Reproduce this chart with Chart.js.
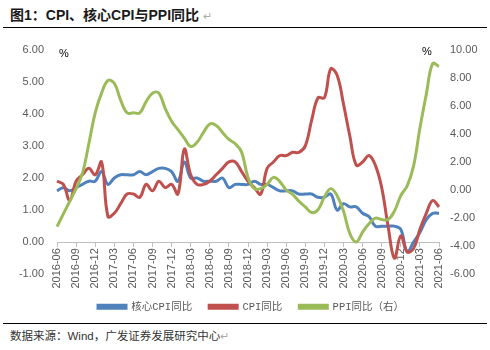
<!DOCTYPE html>
<html>
<head>
<meta charset="utf-8">
<script src="https://cdn.jsdelivr.net/npm/chart.js@4/dist/chart.umd.min.js"></script>
<style>
  html, body { margin: 0; padding: 0; background: #fff; }
  #page { position: relative; width: 490px; height: 350px; overflow: hidden; }
  #title {
    position: absolute; left: 10px; top: 4px;
    font: bold 14px "Liberation Sans", "Noto Sans CJK SC", sans-serif;
    color: #1a1a1a; white-space: nowrap;
  }
  #title .ret, #source .ret { color: #aaa; font-weight: normal; font-size: 11px; }
  #topRule { position: absolute; left: 3px; right: 3px; top: 27px; border-top: 1.5px solid #000; }
  #bottomRule { position: absolute; left: 3px; right: 3px; top: 323px; border-top: 1.5px solid #000; }
  #source {
    position: absolute; left: 10px; top: 327px;
    font: 11.5px "Liberation Sans", "Noto Sans CJK SC", sans-serif;
    color: #333; white-space: nowrap;
  }
  #chartBox { position: absolute; left: 0; top: 30px; width: 490px; height: 292px; }
</style>
</head>
<body>
<div id="page">
  <div id="title">图1：CPI、核心CPI与PPI同比 <span class="ret">↵</span></div>
  <div id="topRule"></div>
  <div id="chartBox"><canvas id="chart"></canvas></div>
  <div id="bottomRule"></div>
  <div id="source">数据来源：Wind，广发证券发展研究中心<span class="ret">↵</span></div>
</div>
<script>
'use strict';

// ── Data (monthly, 2016-06 … 2021-06) ───────────────────────────────────────
const months = [
  '2016-06','2016-07','2016-08','2016-09','2016-10','2016-11','2016-12',
  '2017-01','2017-02','2017-03','2017-04','2017-05','2017-06','2017-07','2017-08','2017-09','2017-10','2017-11','2017-12',
  '2018-01','2018-02','2018-03','2018-04','2018-05','2018-06','2018-07','2018-08','2018-09','2018-10','2018-11','2018-12',
  '2019-01','2019-02','2019-03','2019-04','2019-05','2019-06','2019-07','2019-08','2019-09','2019-10','2019-11','2019-12',
  '2020-01','2020-02','2020-03','2020-04','2020-05','2020-06','2020-07','2020-08','2020-09','2020-10','2020-11','2020-12',
  '2021-01','2021-02','2021-03','2021-04','2021-05','2021-06'
];

const coreCpi = [
  1.6, 1.7, 1.6, 1.7, 1.8, 1.9, 1.9,
  2.2, 1.8, 2.0, 2.1, 2.1, 2.1, 2.2, 2.1, 2.2, 2.3, 2.3, 2.2,
  1.9, 2.5, 2.0, 2.0, 1.9, 1.9, 1.9, 2.0, 1.7, 1.8, 1.8, 1.8,
  1.9, 1.8, 1.8, 1.7, 1.6, 1.6, 1.6, 1.5, 1.5, 1.5, 1.4, 1.4,
  1.5, 1.0, 1.2, 1.1, 1.1, 0.9, 0.8, 0.5, 0.5, 0.5, 0.5, 0.4,
  -0.3, 0.0, 0.3, 0.7, 0.9, 0.9
];

const cpi = [
  1.9, 1.8, 1.3, 1.9, 2.1, 2.3, 2.1,
  2.5, 0.8, 0.9, 1.2, 1.5, 1.5, 1.4, 1.8, 1.6, 1.9, 1.7, 1.8,
  1.5, 2.9, 2.1, 1.8, 1.8, 1.9, 2.1, 2.3, 2.5, 2.5, 2.2, 1.9,
  1.7, 1.5, 2.3, 2.5, 2.7, 2.7, 2.8, 2.8, 3.0, 3.8, 4.5, 4.5,
  5.4, 5.2, 4.3, 3.3, 2.4, 2.5, 2.7, 2.4, 1.7, 0.5, -0.5, 0.2,
  -0.3, -0.2, 0.4, 0.9, 1.3, 1.1
];

const ppi = [
  -2.6, -1.7, -0.8, 0.1, 1.2, 3.3, 5.5,
  6.9, 7.8, 7.6, 6.4, 5.5, 5.5, 5.5, 6.3, 6.9, 6.9, 5.8, 4.9,
  4.3, 3.7, 3.1, 3.4, 4.1, 4.7, 4.6, 4.1, 3.6, 3.3, 2.7, 0.9,
  0.1, 0.1, 0.4, 0.9, 0.6, 0.0, -0.3, -0.8, -1.2, -1.6, -1.4, -0.5,
  0.1, -0.4, -1.5, -3.1, -3.7, -3.0, -2.4, -2.0, -2.1, -2.1, -1.5, -0.4,
  0.3, 1.7, 4.4, 6.8, 9.0, 8.8
];

// ── Style ───────────────────────────────────────────────────────────────────
const BLUE = '#4f81bd';
const RED = '#c0504d';
const GREEN = '#9bbb59';
const TICK_FONT = { family: '"Liberation Sans", Arial, sans-serif', size: 11 };
const TICK_COLOR = '#595959';

// "%" unit labels above each value axis
const unitLabels = {
  id: 'unitLabels',
  afterDraw(chart) {
    const { ctx, chartArea } = chart;
    ctx.save();
    ctx.font = '11px "Liberation Sans", Arial, sans-serif';
    ctx.fillStyle = '#000';
    ctx.textBaseline = 'middle';
    ctx.fillText('%', chartArea.left + 2, chartArea.top + 4);
    ctx.fillText('%', chartArea.right - 17, chartArea.top + 2);
    ctx.restore();
  }
};

function line(label, data, color, axis, order) {
  return {
    label, data,
    yAxisID: axis,
    borderColor: color,
    backgroundColor: color,
    borderWidth: 3,
    pointRadius: 0,
    tension: 0.4,
    fill: false,
    order,
  };
}

new Chart(document.getElementById('chart'), {
  type: 'line',
  data: {
    labels: months,
    datasets: [
      line('核心CPI同比', coreCpi, BLUE, 'y', 3),
      line('CPI同比', cpi, RED, 'y', 2),
      line('PPI同比（右）', ppi, GREEN, 'y1', 1),
    ],
  },
  options: {
    responsive: true,
    maintainAspectRatio: false,
    animation: false,
    // left padding nudges the centred legend right; the y axis is narrowed to match
    layout: { padding: { top: 17, left: 12, right: 0, bottom: 0 } },
    plugins: {
      tooltip: { enabled: false },
      legend: {
        position: 'bottom',
        // empty title only adds room between the plot and the legend row
        title: { display: true, text: ' ', font: { size: 1 }, padding: { top: 0, bottom: 9 } },
        labels: {
          boxWidth: 28,
          boxHeight: 3,
          padding: 17,
          color: TICK_COLOR,
          font: { family: '"Liberation Mono", "Noto Sans CJK SC", monospace', size: 10.5 },
          sort: (a, b) => a.datasetIndex - b.datasetIndex,
        },
      },
    },
    scales: {
      x: {
        type: 'category',
        position: { y: 0 },
        offset: false,
        grid: { drawOnChartArea: false, tickLength: 4, color: '#bfbfbf' },
        border: { display: true, color: '#bfbfbf' },
        ticks: {
          autoSkip: false,
          maxRotation: 90,
          minRotation: 90,
          padding: 2,
          color: TICK_COLOR,
          font: TICK_FONT,
          callback(v, i) { return i % 3 === 0 ? months[i] : null; },
        },
      },
      y: {
        position: 'left',
        min: -1, max: 6,
        grid: { display: false, drawTicks: false },
        border: { display: false },
        ticks: {
          stepSize: 1,
          padding: 13,
          color: TICK_COLOR,
          font: TICK_FONT,
          callback: v => Number(v).toFixed(2),
        },
        afterFit(scale) { scale.width = 45; },
      },
      y1: {
        position: 'right',
        min: -6, max: 10,
        grid: { display: false, drawTicks: false },
        border: { display: false },
        ticks: {
          stepSize: 2,
          padding: 11,
          color: TICK_COLOR,
          font: TICK_FONT,
          callback: v => Number(v).toFixed(2),
        },
        afterFit(scale) { scale.width = 51; },
      },
    },
  },
  plugins: [unitLabels],
});
</script>
</body>
</html>
